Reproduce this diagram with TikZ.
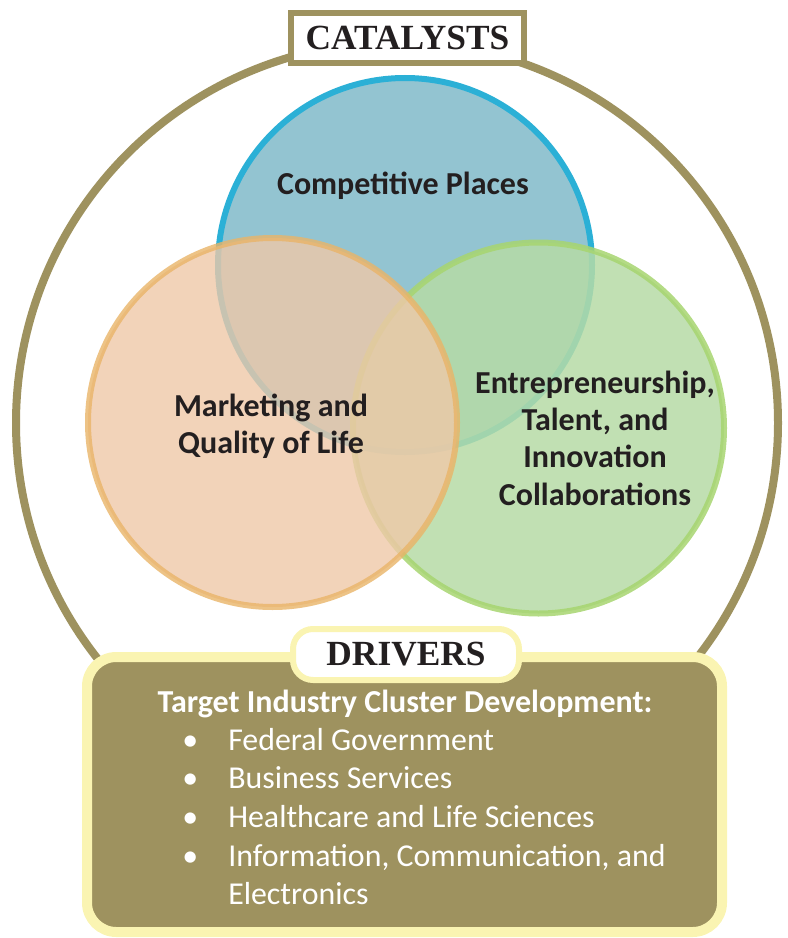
\documentclass[tikz,border=0pt]{standalone}
\usepackage{xcolor}
\usepackage{fontspec}
\setmainfont{Carlito}
\newfontfamily\headfont{Liberation Serif}
\usepackage{tikz}
\usetikzlibrary{calc,shapes,positioning}

\definecolor{olive}{HTML}{9E925F}
\definecolor{paleyellow}{HTML}{FAF4B2}
\definecolor{inkdark}{HTML}{231F20}
\definecolor{bluestroke}{HTML}{2BB0D6}
\definecolor{bluefill}{HTML}{93C4D1}
\definecolor{orangestroke}{HTML}{E9B468}
\definecolor{orangefill}{HTML}{EFC8A8}
\definecolor{greenstroke}{HTML}{A7D570}
\definecolor{greenfill}{HTML}{B6DBA6}

\begin{document}
\begin{tikzpicture}[
    x=0.75pt, y=-0.75pt,
    venn/.style={circle, line width=4.5pt, inner sep=0pt},
    venntext/.style={align=center, text=inkdark, font=\fontsize{24}{28}\selectfont\bfseries},
    tagbox/.style={rectangle, fill=white, line width=4.5pt, inner sep=0pt, text=inkdark, font=\headfont\fontsize{26.5}{30}\selectfont\bfseries},
    itemtext/.style={anchor=base west, inner sep=0pt, text=white, font=\fontsize{23.9}{28}\selectfont}
]
    \useasboundingbox (0,0) rectangle (788,938);

    % Outer ring
    \node[circle, draw=olive, line width=6pt, minimum size=571.5pt, inner sep=0pt] (ring) at (397,423) {};

    % Three circles
    \node[venn, draw=bluestroke, fill=bluefill, minimum size=280.5pt] (places) at (405,265) {};
    \node[venn, draw=greenstroke, fill=greenfill, opacity=0.85, minimum size=278.25pt] (talent) at (538.5,428) {};
    \node[venn, draw=orangestroke, fill=orangefill, opacity=0.8, minimum size=276.75pt] (marketing) at (272.5,422.5) {};

    % Circle labels
    \node[venntext] (placeslabel) at (403,186) {Competitive Places};
    \node[venntext] (marketinglabel) at (271,426) {Marketing and\\Quality of Life};
    \node[venntext] (talentlabel) at (595,438) {Entrepreneurship,\\Talent, and\\Innovation\\Collaborations};

    % Catalysts tag
    \node[tagbox, draw=olive, minimum width=174.75pt, minimum height=37.5pt] (catalysts) at (407.5,38) {CATALYSTS};

    % Drivers panel
    \node[rectangle, draw=paleyellow, fill=olive, line width=7.5pt, rounded corners=22pt,
          minimum width=476.25pt, minimum height=206.25pt] (panel) at (404.5,794.5) {};
    \node[tagbox, draw=paleyellow, rounded corners=15pt, minimum width=169.5pt, minimum height=38.25pt] (drivers) at (406,654.5) {DRIVERS};

    % Panel text
    \node[anchor=base, text=white, font=\fontsize{24}{28}\selectfont\bfseries] (clusters) at (405,712) {Target Industry Cluster Development:};
    \node[itemtext] (bulletA) at (182,750) {\textbullet};
    \node[itemtext] (federal) at (228,750) {Federal Government};
    \node[itemtext] (bulletB) at (182,788) {\textbullet};
    \node[itemtext] (business) at (228,788) {Business Services};
    \node[itemtext] (bulletC) at (182,827) {\textbullet};
    \node[itemtext] (health) at (228,827) {Healthcare and Life Sciences};
    \node[itemtext] (bulletD) at (182,866) {\textbullet};
    \node[itemtext] (info) at (228,866) {Information, Communication, and};
    \node[itemtext] (electronics) at (228,904) {Electronics};
\end{tikzpicture}
\end{document}
